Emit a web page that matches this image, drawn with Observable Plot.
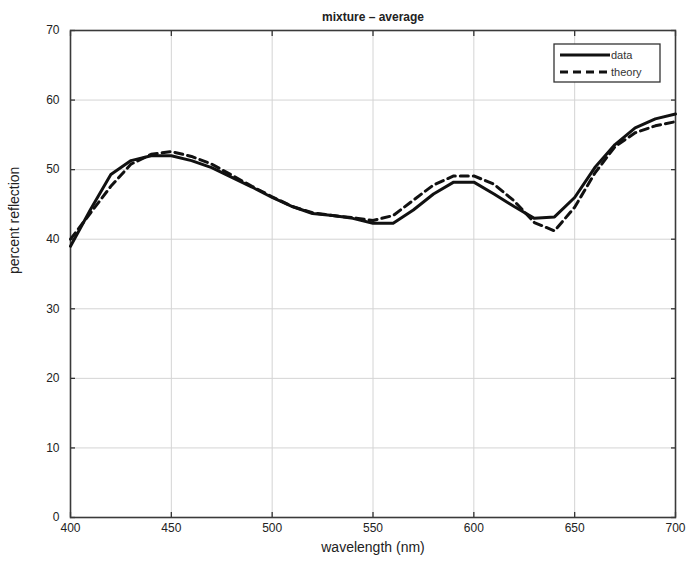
<!DOCTYPE html>
<html>
<head>
<meta charset="utf-8">
<script src="https://cdn.jsdelivr.net/npm/d3@7"></script>
<script src="https://cdn.jsdelivr.net/npm/@observablehq/plot@0.6"></script>
<style>
  html, body { margin: 0; padding: 0; background: #fff; }
  #wrap { position: relative; width: 686px; height: 575px; font-family: "Liberation Sans", Arial, sans-serif; }
  #legend { position: absolute; left: 0; top: 0; pointer-events: none; }
</style>
</head>
<body>
<div id="wrap"></div>
<script>
// wavelengths (nm)
const wavelength = [400,410,420,430,440,450,460,470,480,490,500,510,520,530,540,550,560,570,580,590,600,610,620,630,640,650,660,670,680,690,700];
// measured data (percent reflection)
const dataValues = [39,44.3,49.3,51.3,52,52,51.3,50.3,48.9,47.5,46,44.7,43.7,43.4,43,42.3,42.3,44.2,46.5,48.2,48.2,46.5,44.7,43,43.2,46,50.3,53.6,56,57.3,58];
// theory (percent reflection)
const theoryValues = [40,43.8,47.6,50.8,52.2,52.6,51.9,50.8,49.2,47.6,46.1,44.7,43.8,43.4,43.1,42.7,43.4,45.6,47.8,49.1,49.1,47.9,45.5,42.4,41.2,44.6,49.5,53.3,55.3,56.3,56.9];
const xTicks = [400,450,500,550,600,650,700];
const yTicks = [0,10,20,30,40,50,60,70];
const seriesNames = ["data","theory"];
const titleText = "mixture \u2013 average";
const xLabel = "wavelength (nm)";
const yLabel = "percent reflection";

const dataRows = wavelength.map((w,i) => ({w, v: dataValues[i]}));
const theoryRows = wavelength.map((w,i) => ({w, v: theoryValues[i]}));
const blank = () => "";

const chart = Plot.plot({
  width: 686,
  height: 575,
  marginTop: 30,
  marginBottom: 58,
  marginLeft: 70,
  marginRight: 11,
  style: {fontFamily: "'Liberation Sans', Arial, sans-serif", fontSize: "12px", color: "#222", background: "#fff"},
  x: {domain: [400,700]},
  y: {domain: [0,70]},
  marks: [
    Plot.gridX(xTicks, {stroke: "#d4d4d4", strokeOpacity: 1, strokeWidth: 1}),
    Plot.gridY(yTicks, {stroke: "#d4d4d4", strokeOpacity: 1, strokeWidth: 1}),
    // inward ticks on all four sides
    Plot.axisX(xTicks, {anchor: "bottom", tickSize: -5, tickFormat: blank, label: null, stroke: "#333", strokeWidth: 1.3}),
    Plot.axisX(xTicks, {anchor: "top", tickSize: -5, tickFormat: blank, label: null, stroke: "#333", strokeWidth: 1.3}),
    Plot.axisY(yTicks, {anchor: "left", tickSize: -5, tickFormat: blank, label: null, stroke: "#333", strokeWidth: 1.3}),
    Plot.axisY(yTicks, {anchor: "right", tickSize: -5, tickFormat: blank, label: null, stroke: "#333", strokeWidth: 1.3}),
    // tick labels
    Plot.axisX(xTicks, {anchor: "bottom", tickSize: 0, tickPadding: 6, label: null, fontSize: 12, fill: "#222"}),
    Plot.axisY(yTicks, {anchor: "left", tickSize: 0, tickPadding: 11, label: null, fontSize: 12, fill: "#222"}),
    Plot.frame({stroke: "#3a3a3a", strokeWidth: 1.6}),
    Plot.line(theoryRows, {x: "w", y: "v", stroke: "#111", strokeWidth: 3, strokeDasharray: "8,5"}),
    Plot.line(dataRows, {x: "w", y: "v", stroke: "#111", strokeWidth: 3}),
    Plot.text([titleText], {frameAnchor: "top", dy: -18, fontWeight: "bold", fontSize: 12, fill: "#222"}),
    Plot.text([xLabel], {frameAnchor: "bottom", dy: 34, fontSize: 14, fill: "#222"}),
    Plot.text([yLabel], {frameAnchor: "left", dx: -56, rotate: -90, fontSize: 14, fill: "#222"})
  ]
});
document.getElementById("wrap").appendChild(chart);

// legend (top-right box)
const lg = d3.select("#wrap").append("svg")
  .attr("id", "legend").attr("width", 686).attr("height", 575)
  .style("font-family", "'Liberation Sans', Arial, sans-serif");
const bx = 554, by = 44, bw = 106, bh = 38;
lg.append("rect").attr("x", bx).attr("y", by).attr("width", bw).attr("height", bh)
  .attr("fill", "#fff").attr("stroke", "#333").attr("stroke-width", 1.3);
seriesNames.forEach((name, i) => {
  const yy = by + 11 + i * 17;
  lg.append("line").attr("x1", bx + 6).attr("x2", bx + 56).attr("y1", yy).attr("y2", yy)
    .attr("stroke", "#111").attr("stroke-width", 3)
    .attr("stroke-dasharray", i === 1 ? "8,5" : null);
  lg.append("text").attr("x", bx + 57).attr("y", yy).attr("dy", "0.35em")
    .attr("font-size", 11).attr("fill", "#333").text(name);
});
</script>
</body>
</html>
